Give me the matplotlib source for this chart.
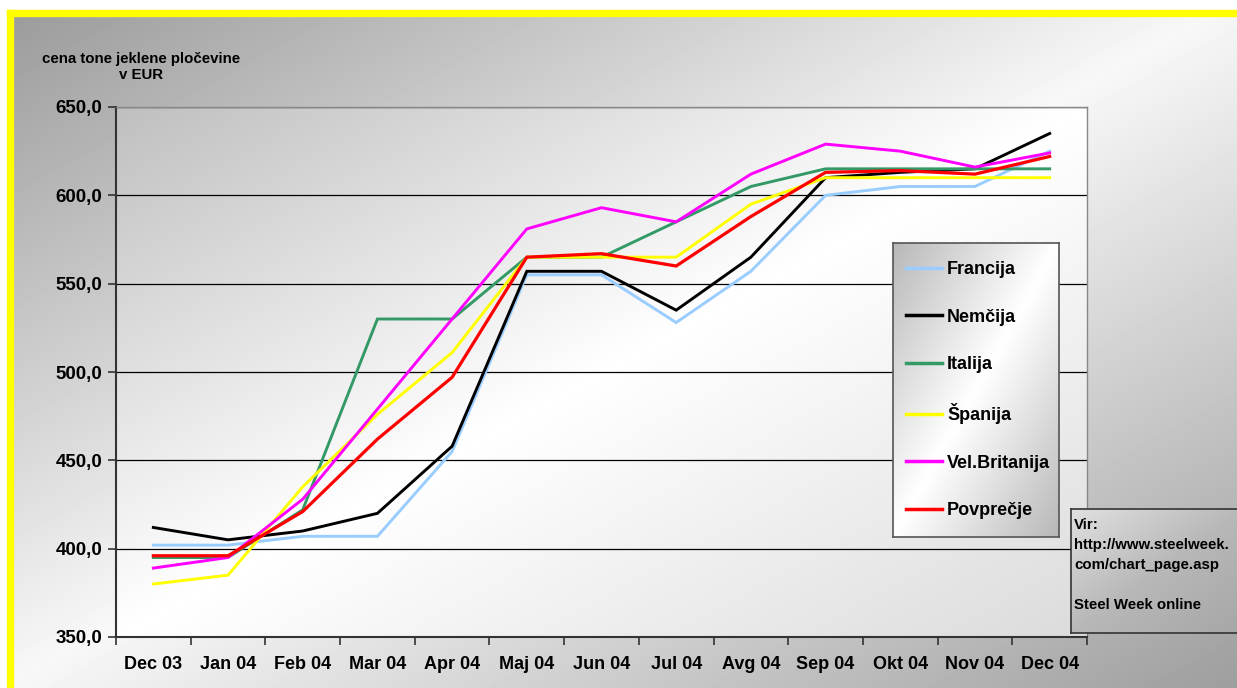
import numpy as np
import matplotlib.pyplot as plt
from matplotlib.lines import Line2D
from matplotlib.patches import Rectangle

plt.rcParams['font.family'] = ['Liberation Sans', 'DejaVu Sans']
plt.rcParams['font.weight'] = 'bold'

# data (EUR per tonne of steel sheet)
months = ['Dec 03', 'Jan 04', 'Feb 04', 'Mar 04', 'Apr 04', 'Maj 04', 'Jun 04',
          'Jul 04', 'Avg 04', 'Sep 04', 'Okt 04', 'Nov 04', 'Dec 04']
francija = [402, 402, 407, 407, 455, 555, 555, 528, 557, 600, 605, 605, 625]
nemcija = [412, 405, 410, 420, 458, 557, 557, 535, 565, 610, 613, 615, 635]
italija = [395, 395, 422, 530, 530, 565, 565, 585, 605, 615, 615, 615, 615]
spanija = [380, 385, 435, 476, 511, 565, 565, 565, 595, 610, 610, 610, 610]
velbritanija = [389, 395, 428, 479, 530, 581, 593, 585, 612, 629, 625, 616, 624]
povprecje = [396, 396, 421, 462, 497, 565, 567, 560, 588, 613, 614, 612, 622]

series = [('Francija', francija, '#99ccff', 2.1),
          ('Nemčija', nemcija, '#000000', 2.1),
          ('Italija', italija, '#339966', 2.1),
          ('Španija', spanija, '#ffff00', 2.1),
          ('Vel.Britanija', velbritanija, '#ff00ff', 2.1),
          ('Povprečje', povprecje, '#ff0000', 2.3)]

W, H = 1237, 688
fig = plt.figure(figsize=(W / 100, H / 100), dpi=100)


def gradient(ax, lo, mid, hi, n=200):
    # diagonal grey shading: dark corner -> light middle -> grey corner
    gx, gy = np.meshgrid(np.linspace(0, 1, n), np.linspace(0, 1, n))
    t = (gx + gy) / 2
    v = np.where(t < 0.5, lo + (mid - lo) * t / 0.5, mid + (hi - mid) * (t - 0.5) / 0.5)
    ax.imshow(v, cmap='gray', vmin=0, vmax=1, aspect='auto',
              extent=[0, 1, 1, 0], interpolation='bicubic', zorder=0)
    ax.set_xlim(0, 1)
    ax.set_ylim(1, 0)
    ax.axis('off')


# figure background + yellow border
bg = fig.add_axes([0, 0, 1, 1], zorder=-5)
gradient(bg, 0.60, 0.97, 0.62)
bg.add_patch(Rectangle((0, 0), 1, 10 / H, color='white', zorder=2))
bg.add_patch(Rectangle((0, 0), 7 / W, 1, color='white', zorder=2))
bg.add_patch(Rectangle((7 / W, 10 / H), 1, 6 / H, color='#ffff00', zorder=3))
bg.add_patch(Rectangle((7 / W, 10 / H), 6 / W, 1, color='#ffff00', zorder=3))

# plot area
left, right, top, bottom = 116, 1087, 107, 637
pos = [left / W, 1 - bottom / H, (right - left) / W, (bottom - top) / H]
pbg = fig.add_axes(pos, zorder=-1)
gradient(pbg, 0.75, 1.0, 0.86)

ax = fig.add_axes(pos, zorder=1)
ax.patch.set_alpha(0)
x = np.arange(len(months))
handles = []
for name, vals, col, lw in series:
    ln, = ax.plot(x, vals, color=col, lw=lw, label=name, solid_joinstyle='miter')
    handles.append(ln)

ax.set_xlim(-0.5, len(months) - 0.5)
ax.set_ylim(350, 650)
ax.set_yticks(np.arange(350, 651, 50))
ax.set_yticklabels([f'{v:.1f}'.replace('.', ',') for v in np.arange(350, 651, 50)],
                   fontsize=13.5, fontweight='bold')
ax.set_xticks(np.arange(-0.5, len(months), 1))
ax.set_xticklabels([])
ax.set_xticks(x, minor=True)
ax.set_xticklabels(months, minor=True, fontsize=13, fontweight='bold')
ax.tick_params(axis='x', which='minor', length=0, pad=14)
ax.tick_params(axis='x', which='major', length=6, width=1.2, color='#333333')
ax.tick_params(axis='y', length=6, width=1.2, color='#333333', pad=4)
ax.grid(axis='y', color='black', lw=0.9)
for s in ['left', 'bottom']:
    ax.spines[s].set_color('#333333')
    ax.spines[s].set_linewidth(1.5)
for s in ['top', 'right']:
    ax.spines[s].set_color('#888888')
    ax.spines[s].set_linewidth(1.0)

fig.text(141 / W, 1 - 67 / H, 'cena tone jeklene pločevine\nv EUR', ha='center', va='center',
         fontsize=10.8, fontweight='bold', linespacing=1.25)

# legend box
lx0, lx1, ly0, ly1 = 893, 1059, 243, 537
lax = fig.add_axes([lx0 / W, 1 - ly1 / H, (lx1 - lx0) / W, (ly1 - ly0) / H], zorder=2)
gradient(lax, 0.72, 1.0, 0.72)
lax.axis('on')
lax.set_xticks([])
lax.set_yticks([])
for s in lax.spines.values():
    s.set_color('#555555')
    s.set_linewidth(1.2)
leg_handles = [Line2D([0], [0], color=h.get_color(), lw=2.5) for h in handles]
lax.legend(leg_handles, [s[0] for s in series], loc='center left', frameon=False,
           prop={'size': 13, 'weight': 'bold'}, labelspacing=1.68, handlelength=2.0,
           handletextpad=0.3, borderaxespad=0.3)

# source box
sx0, sx1, sy0, sy1 = 1071, 1245, 509, 633
sax = fig.add_axes([sx0 / W, 1 - sy1 / H, (sx1 - sx0) / W, (sy1 - sy0) / H], zorder=2)
gradient(sax, 0.88, 0.72, 0.65)
sax.axis('on')
sax.set_xticks([])
sax.set_yticks([])
for s in sax.spines.values():
    s.set_color('#333333')
    s.set_linewidth(1.2)
sax.text(3 / (sx1 - sx0), 0.93, 'Vir:\nhttp://www.steelweek.\ncom/chart_page.asp\n\nSteel Week online',
         transform=sax.transAxes, ha='left', va='top', fontsize=10.8, fontweight='bold',
         linespacing=1.56)

fig.savefig('out.png', dpi=100)
